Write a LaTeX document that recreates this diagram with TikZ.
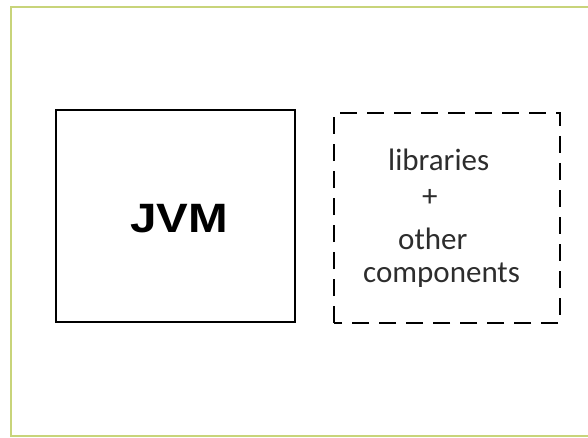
\documentclass[tikz,border=0pt]{standalone}
\usepackage{fontspec}
\newfontfamily\boxfont{Carlito}
\newfontfamily\titlefont[FakeStretch=1.16]{Liberation Sans}
\definecolor{framegreen}{RGB}{200,212,122}
\definecolor{textgrey}{RGB}{45,45,45}

\begin{document}
\begin{tikzpicture}[x=1pt,y=1pt]
            \clip (0,0) rectangle (588,437);
            \draw [framegreen,line width=2pt] (10.5,1.5) rectangle (600,429.5);
            % runtime box and the dashed box beside it
            \draw [line width=1.2pt] (56,115) rectangle (295,327);
            \draw [line width=1.2pt,dash pattern=on 17pt off 10pt] (334,114) rectangle (560,324);
            \node [anchor=base west,inner sep=0pt] (jvm) at (130,205)
                {\titlefont\bfseries\fontsize{41}{41}\selectfont JVM};
            \node [anchor=base west,inner sep=0pt,textgrey] (libs) at (388,267)
                {\boxfont\fontsize{31}{31}\selectfont libraries};
            \node [anchor=base west,inner sep=0pt,textgrey] (plus) at (422,231)
                {\boxfont\fontsize{31}{31}\selectfont +};
            \node [anchor=base west,inner sep=0pt,textgrey] (other) at (398,188)
                {\boxfont\fontsize{31}{31}\selectfont other};
            \node [anchor=base west,inner sep=0pt,textgrey] (comps) at (363,155)
                {\boxfont\fontsize{31}{31}\selectfont components};
\end{tikzpicture}
\end{document}
